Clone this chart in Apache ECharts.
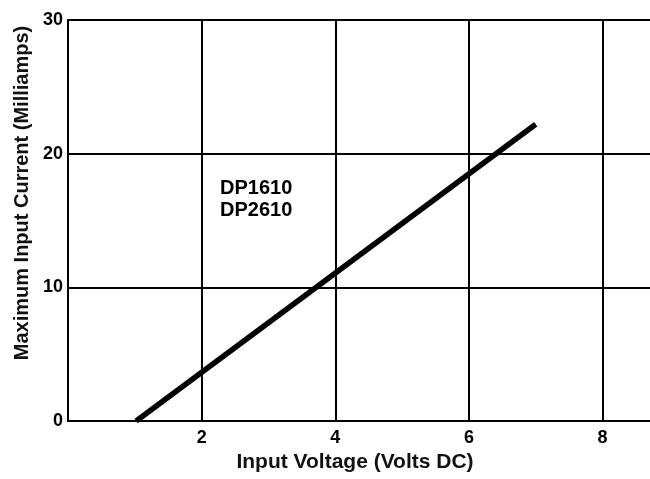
<!DOCTYPE html>
<html>
<head>
<meta charset="utf-8">
<script src="https://cdn.jsdelivr.net/npm/echarts@6/dist/echarts.min.js"></script>
<style>html,body{margin:0;padding:0;background:#fff}#c{width:650px;height:479px}</style>
</head>
<body>
<div id="c"></div>
<script>
var voltage = [1.02, 7.0];
var current = [0, 22.2];
var xTicks = [2, 4, 6, 8];
var yTicks = [0, 10, 20, 30];
var seriesLabel = ['DP1610', 'DP2610'];

var pts = voltage.map(function (v, i) { return [v, current[i]]; });
var font = '"Liberation Sans", Arial, Helvetica, sans-serif';
var chart = echarts.init(document.getElementById('c'), null, { renderer: 'canvas' });
chart.setOption({
  animation: false,
  backgroundColor: '#fff',
  grid: { left: 68, right: -6, top: 20, bottom: 58, containLabel: false, outerBoundsMode: 'none' },
  xAxis: {
    type: 'value', min: 0, max: 8.8, interval: 2,
    name: 'Input Voltage (Volts DC)', nameLocation: 'middle', nameGap: 30,
    nameTextStyle: { fontFamily: font, fontSize: 21, fontWeight: 'bold', color: '#111', padding: [0, 14, 0, 0] },
    axisLine: { show: true, lineStyle: { color: '#000', width: 2 } },
    axisTick: { show: false },
    axisLabel: {
      fontFamily: font, fontSize: 18, fontWeight: 'bold', color: '#000', margin: 8,
      formatter: function (v) { return xTicks.indexOf(v) >= 0 ? String(v) : ''; }
    },
    splitLine: { show: true, lineStyle: { color: '#000', width: 2 } }
  },
  yAxis: {
    type: 'value', min: 0, max: 30, interval: 10,
    name: 'Maximum Input Current (Milliamps)', nameLocation: 'middle', nameGap: 36,
    nameTextStyle: { fontFamily: font, fontSize: 20, fontWeight: 'bold', color: '#111', padding: [0, 0, 0, 55] },
    axisLine: { show: true, lineStyle: { color: '#000', width: 2 } },
    axisTick: { show: false },
    axisLabel: {
      fontFamily: font, fontSize: 18, fontWeight: 'bold', color: '#000', margin: 5,
      formatter: function (v) { return yTicks.indexOf(v) >= 0 ? String(v) : ''; }
    },
    splitLine: { show: true, lineStyle: { color: '#000', width: 2 } }
  },
  graphic: [{
    type: 'text', left: 220, top: 177,
    style: { text: seriesLabel.join('\n'), font: 'bold 20px ' + font, fill: '#000', lineHeight: 22 }
  }],
  series: [{
    type: 'line', data: pts, showSymbol: false, symbol: 'none',
    lineStyle: { color: '#000', width: 5.5, cap: 'butt' }
  }]
});
</script>
</body>
</html>
